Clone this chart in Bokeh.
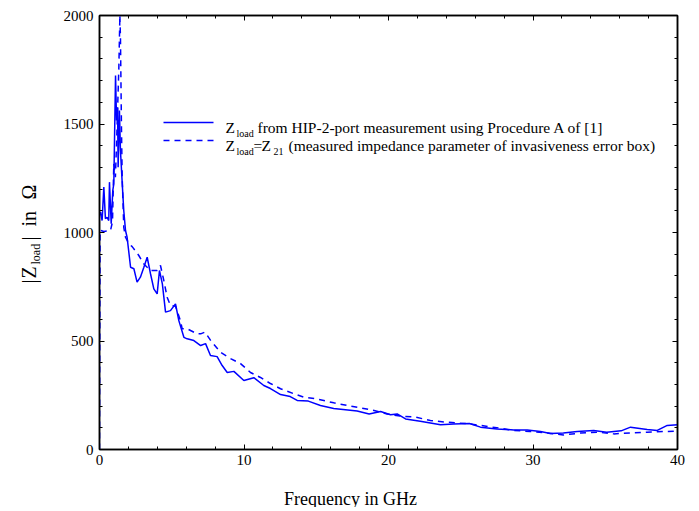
import math
from bokeh.plotting import figure
from bokeh.layouts import row, column
from bokeh.models import (Range1d, LinearAxis, SingleIntervalTicker, Label, Arrow)
from bokeh.embed import file_html
from bokeh.resources import INLINE

# ---- data ----
freq_proc = [0.0, 0.07, 0.18, 0.3, 0.41, 0.53, 0.64, 0.69, 0.81, 0.92, 0.99, 1.11, 1.18, 1.25,
             1.29, 1.38, 1.45, 1.57, 1.68, 1.8, 1.91, 2.15, 2.38, 2.6, 2.83, 3.07, 3.3, 3.53,
             3.76, 3.99, 4.15, 4.35, 4.57, 4.91, 5.26, 5.49, 5.84, 6.07, 6.53, 7.0, 7.34, 7.68,
             8.14, 8.49, 8.84, 9.3, 9.99, 10.68, 11.37, 11.83, 12.53, 13.2, 13.68, 14.45, 15.29,
             16.21, 17.83, 18.66, 19.45, 20.14, 20.6, 21.18, 22.2, 23.6, 24.5, 25.6, 26.37, 27.5,
             28.67, 29.6, 30.52, 31.2, 32.1, 33.06, 34.2, 35.1, 36.1, 36.75, 37.9, 38.6, 39.29, 40.0]
z_proc = [1080, 1094, 1055, 1209, 1064, 1070, 1055, 1232, 1041, 1194, 1224, 1723, 1516, 1577,
          1301, 1562, 1378, 1230, 1100, 1009, 978, 840, 833, 771, 794, 840, 886, 810,
          740, 717, 825, 763, 633, 640, 671, 594, 517, 510, 502, 479, 488, 433,
          428, 387, 355, 360, 318, 331, 295, 281, 253, 244, 226, 223, 203,
          189, 177, 164, 175, 160, 164, 141, 130, 114, 118, 120, 103, 95,
          90, 90, 83, 74, 76, 83, 88, 80, 86, 103, 92, 88, 111, 114]

freq_z21 = [0.0, 0.04, 0.3, 0.76, 0.9, 0.99, 1.1, 1.18, 1.25, 1.34, 1.41, 1.45, 1.52, 1.57, 1.68,
            1.8, 2.03, 2.26, 2.72, 3.07, 3.53, 3.99, 4.22, 4.45, 4.68, 4.91, 5.26, 5.6, 5.72,
            6.07, 6.76, 7.0, 7.3, 7.7, 8.37, 9.07, 9.76, 10.45, 11.14, 11.83, 12.53, 13.45,
            14.15, 15.06, 16.21, 17.13, 18.05, 19.0, 19.9, 20.8, 21.8, 22.9, 24.0, 25.6, 26.37,
            27.5, 28.67, 29.8, 30.95, 32.1, 33.3, 34.45, 35.6, 36.75, 37.9, 39.1, 40.0]
z_z21 = [0, 1010, 1005, 1009, 1050, 1317, 1255, 1409, 1562, 1762, 2000, 1900, 1485, 1255, 1024,
         978, 949, 935, 894, 855, 825, 825, 848, 779, 702, 664, 660, 594, 557,
         556, 533, 533, 541, 502, 448, 419, 396, 355, 332, 304, 280, 257,
         241, 233, 215, 203, 192, 180, 164, 154, 150, 134, 126, 118, 111,
         100, 88, 83, 76, 67, 76, 80, 72, 76, 80, 83, 85]

x_ticks_interval = 10
y_ticks_interval = 500

FONT = "Liberation Serif"
BLUE = "#0000ff"

LW = 52      # width of the strip holding the y title
H1 = 475     # height of the main row
HB = 32      # height of the strip holding the x title
W = 699
FRAME_BOTTOM = 449   # page y of the plot frame's bottom edge (strip frames align with it)

p = figure(width=W - LW, height=H1, output_backend="svg", toolbar_location=None,
           x_range=Range1d(0, 40), y_range=Range1d(0, 2000),
           min_border_left=99 - LW, min_border_right=22, min_border_top=15,
           min_border_bottom=H1 - FRAME_BOTTOM,
           x_axis_type=None, y_axis_type=None)
p.grid.visible = False
p.outline_line_color = "black"
p.outline_line_width = 1.5
p.background_fill_color = "white"
p.border_fill_color = "white"

def make_axis(interval, show_labels):
    ax = LinearAxis(ticker=SingleIntervalTicker(interval=interval, num_minor_ticks=5))
    ax.axis_line_color = "black"
    ax.axis_line_width = 1.5
    ax.major_tick_in = 5
    ax.major_tick_out = 0
    ax.minor_tick_in = 3
    ax.minor_tick_out = 0
    ax.major_tick_line_color = "black"
    ax.minor_tick_line_color = "black"
    if show_labels:
        ax.major_label_text_font = FONT
        ax.major_label_text_font_size = "15px"
        ax.major_label_text_color = "black"
    else:
        ax.major_label_text_font_size = "0px"
        ax.major_label_standoff = 0
    return ax

xb = make_axis(x_ticks_interval, True)
xb.major_label_standoff = 5
p.add_layout(xb, "below")
yl = make_axis(y_ticks_interval, True)
yl.major_label_standoff = 6
p.add_layout(yl, "left")
p.add_layout(make_axis(x_ticks_interval, False), "above")
p.add_layout(make_axis(y_ticks_interval, False), "right")

p.line(freq_proc, z_proc, line_color=BLUE, line_width=1.5)
p.line(freq_z21, z_z21, line_color=BLUE, line_width=1.5, line_dash="6 5")

def lab(fig, text, x, y, size, angle=0.0, align="left"):
    fig.add_layout(Label(x=x, y=y, x_units="screen", y_units="screen", text=text,
                         text_font=FONT, text_font_size=size, text_color="black",
                         text_align=align, text_baseline="alphabetic", angle=angle))

# legend (positions relative to the plot frame, y measured upward)
p.add_layout(Arrow(end=None, x_start=64, y_start=327, x_end=114, y_end=327,
                   start_units="screen", end_units="screen",
                   line_color=BLUE, line_width=1.5))
p.add_layout(Arrow(end=None, x_start=64, y_start=309, x_end=114, y_end=309,
                   start_units="screen", end_units="screen",
                   line_color=BLUE, line_width=1.5, line_dash="6 5"))
lab(p, "Z", 126, 322.5, "15.5px")
lab(p, "load", 137, 316, "10px")
lab(p, "from HIP-2-port measurement using Procedure A of [1]", 158, 322.5, "15.5px")
lab(p, "Z", 126, 304.5, "15.5px")
lab(p, "load", 137, 298, "10px")
lab(p, "=", 154, 304.5, "15.5px")
lab(p, "Z", 162, 304.5, "15.5px")
lab(p, "21", 174, 298.5, "10px")
lab(p, "(measured impedance parameter of invasiveness error box)", 189, 304.5, "15.5px")

def strip(w, h):
    f = figure(width=w, height=h, output_backend="svg", toolbar_location=None,
               x_range=Range1d(0, 1), y_range=Range1d(0, 1),
               min_border=0, x_axis_type=None, y_axis_type=None)
    f.grid.visible = False
    f.outline_line_color = None
    f.background_fill_color = "white"
    f.border_fill_color = "white"
    return f

# y axis title (rotated), in a strip left of the plot; its frame is aligned
# with the plot frame, so y is measured up from the frame bottom
left = strip(LW, H1)
a = math.pi / 2
fb = FRAME_BOTTOM
lab(left, "|", 28, fb - 283, "20px", angle=a)
lab(left, "Z", 28, fb - 278, "20px", angle=a)
lab(left, "load", 35, fb - 264, "12px", angle=a)
lab(left, "|", 28, fb - 240, "20px", angle=a)
lab(left, "in", 28, fb - 226, "20px", angle=a)
lab(left, "Ω", 28, fb - 199, "20px", angle=a)

# x axis title, in a strip below
bottom = strip(W, HB)
lab(bottom, "Frequency in GHz", 350, 9, "18px", align="center")

layout = column(row(left, p, spacing=0), bottom, spacing=0)
open("out.html", "w").write(file_html(layout, INLINE))
